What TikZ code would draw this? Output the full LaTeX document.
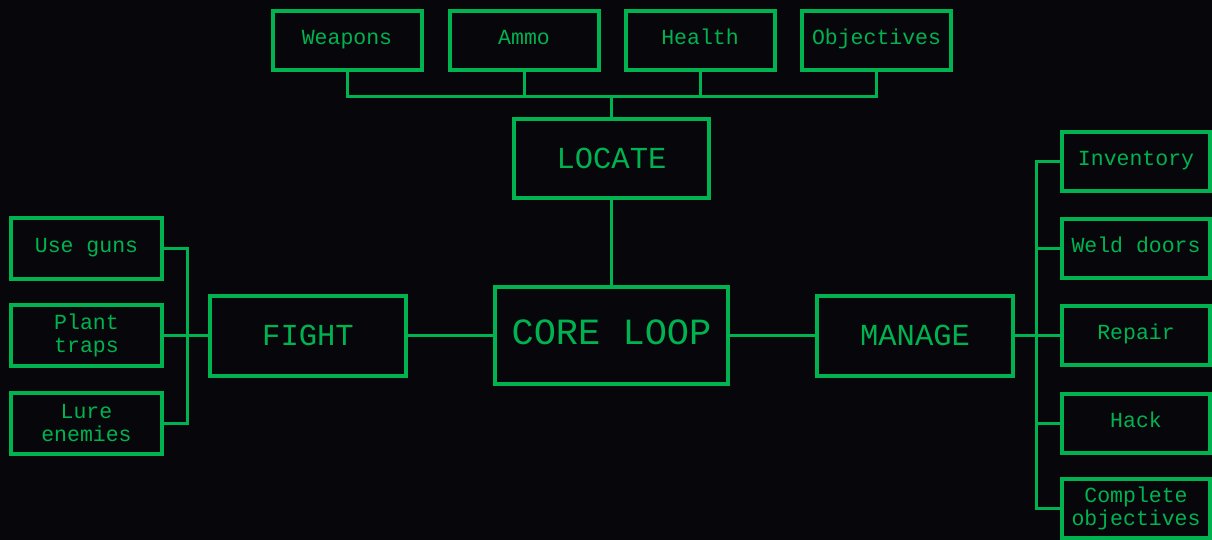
\documentclass[tikz,border=0pt]{standalone}
\usepackage{fontspec}
\newfontfamily\termfont{Liberation Mono}
\definecolor{phosphor}{RGB}{0,178,80}
\definecolor{screen}{RGB}{7,7,11}

\tikzset{
  box/.style={draw=phosphor, line width=4pt, inner sep=0pt, text=phosphor},
  leaf/.style={box, minimum width=149pt, minimum height=59pt,
    font=\termfont\fontsize{21.5}{23}\selectfont},
  leafone/.style={leaf, text height=14pt, text depth=6pt},
  leaftwo/.style={leaf, align=center},
  hub/.style={box, minimum width=196pt, minimum height=80pt,
    font=\termfont\fontsize{30.5}{32}\selectfont, text height=20pt, text depth=0pt},
  corebox/.style={box, minimum width=233pt, minimum height=97pt,
    font=\termfont\fontsize{37}{39}\selectfont, text height=24pt, text depth=7pt},
  wire/.style={draw=phosphor, line width=3pt},
}

\begin{document}
\begin{tikzpicture}[x=1pt,y=-1pt]
\fill[screen] (0,0) rectangle (1212,540);
\useasboundingbox (0,0) rectangle (1212,540);
\clip (0,0) rectangle (1212,540);

% centre of the loop and its three stages
\node[corebox] (core) at (611.5,335.5) {CORE LOOP};
\node[hub, minimum width=195pt, minimum height=79pt] (locate) at (611.5,158.5) {LOCATE};
\node[hub] (fight) at (308,335.5) {FIGHT};
\node[hub] (manage) at (915,335.5) {MANAGE};

% things to locate
\node[leafone] (weapons) at (347,40.5) {Weapons};
\node[leafone] (ammo) at (524,40.5) {Ammo};
\node[leafone] (health) at (700,40.5) {Health};
\node[leafone] (objectives) at (876.5,40.5) {Objectives};

% ways to fight
\node[leafone, minimum width=151pt, minimum height=61pt] (useguns) at (86.5,248.5) {Use guns};
\node[leaftwo, minimum width=151pt, minimum height=61pt] (plant) at (86.5,335.5) {Plant\\traps};
\node[leaftwo, minimum width=151pt, minimum height=61pt] (lure) at (86.5,423.5) {Lure\\enemies};

% things to manage
\node[leafone, minimum width=148pt] (inventory) at (1136,161.5) {Inventory};
\node[leafone, minimum width=148pt] (weld) at (1136,248.5) {Weld doors};
\node[leafone, minimum width=148pt] (repair) at (1136,335.5) {Repair};
\node[leafone, minimum width=148pt] (hack) at (1136,423) {Hack};
\node[leaftwo, minimum width=148pt] (complete) at (1136,508.5) {Complete\\objectives};

% bus lines
\coordinate (topbus) at (611.5,96.5);
\coordinate (leftbus) at (187.5,335.5);
\coordinate (rightbus) at (1036,335.5);

% top tree
\draw[wire] (weapons.south) |- (objectives.south |- topbus) -- (objectives.south);
\draw[wire] (ammo.south) -- (ammo.south |- topbus);
\draw[wire] (health.south) -- (health.south |- topbus);
\draw[wire] (locate.north) -- (locate.north |- topbus);
\draw[wire] (locate.south) -- (core.north);

% left tree
\draw[wire] (useguns.east) -| (leftbus |- lure.east) -- (lure.east);
\draw[wire] (plant.east) -- (fight.west);
\draw[wire] (fight.east) -- (core.west);

% right tree
\draw[wire] (core.east) -- (manage.west);
\draw[wire] (inventory.west) -| (rightbus |- complete.west) -- (complete.west);
\draw[wire] (weld.west) -- (weld.west -| rightbus);
\draw[wire] (hack.west) -- (hack.west -| rightbus);
\draw[wire] (manage.east) -- (repair.west);
\end{tikzpicture}
\end{document}
